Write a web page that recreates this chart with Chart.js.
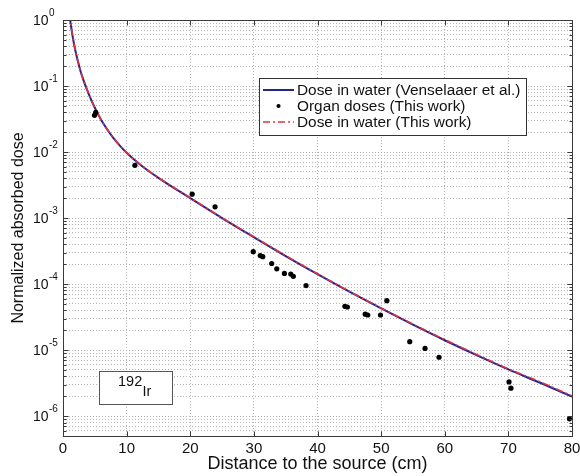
<!DOCTYPE html>
<html>
<head>
<meta charset="utf-8">
<script src="https://cdn.jsdelivr.net/npm/chart.js@4.4.1/dist/chart.umd.min.js"></script>
<style>
  html, body { margin: 0; padding: 0; background: #fff; }
  #wrap { width: 580px; height: 476px; }
</style>
</head>
<body>
<div id="wrap"><canvas id="dose-chart" width="580" height="476"></canvas></div>
<script>
// Distance from the source (cm) and normalized absorbed dose in water
const waterDistance = [1, 1.2, 1.5, 2, 2.5, 3, 4, 5, 6, 7, 8, 9, 10, 12, 15, 20, 25, 30, 35, 40, 45, 50, 55, 60, 65, 70, 75, 80];
const waterDoseVenselaar = [1.23, 0.89, 0.575, 0.324, 0.207, 0.141, 0.0776, 0.0468, 0.0305, 0.0216, 0.0160, 0.0123, 0.00977, 0.00661,
  0.00407, 0.00200, 0.00100, 0.000513, 0.000266, 0.000141, 0.0000767, 0.0000427, 0.0000243, 0.0000141, 0.0000084, 0.0000051,
  0.0000032, 0.00000197];
const waterDoseThisWork = [1.25, 0.9, 0.58, 0.327, 0.209, 0.142, 0.0782, 0.0472, 0.0308, 0.0218, 0.0162, 0.0124, 0.00985, 0.00667,
  0.00411, 0.00203, 0.00101, 0.00052, 0.00027, 0.000143, 0.0000778, 0.0000435, 0.0000248, 0.0000144, 0.0000086, 0.0000052,
  0.0000033, 0.00000203];

// Organ doses
const organDistance = [4.95, 5.15, 11.3, 20.3, 23.9, 29.9, 31.0, 31.4, 32.8, 33.6, 34.8, 35.8, 36.2, 38.2,
  44.3, 44.7, 47.5, 47.9, 49.9, 50.9, 54.5, 56.9, 59.1, 70.1, 70.4, 79.6];
const organDose = [0.036, 0.040, 0.0063, 0.0023, 0.00148, 0.00031, 0.00027, 0.00026, 0.000205, 0.00017, 0.000145, 0.000142, 0.000131, 0.000095,
  0.000046, 0.000045, 0.000035, 0.000034, 0.000034, 0.000056, 0.0000134, 0.0000106, 0.0000078, 0.0000033, 0.00000265, 0.00000091];

// Axis ticks
const xTicks = [0, 10, 20, 30, 40, 50, 60, 70, 80];
const yDecades = [-6, -5, -4, -3, -2, -1, 0];
const yMantissas = [1, 2, 3, 4, 5, 6, 7, 8, 9];
const yBelowFirstDecade = [6e-7, 7e-7, 8e-7, 9e-7];

const FONT = '"Liberation Sans", Arial, Helvetica, sans-serif';
Chart.defaults.font.family = FONT;
Chart.defaults.color = '#111';

const yTickValues = yBelowFirstDecade.slice();
yDecades.forEach(d => {
    yMantissas.forEach(m => {
        if (d === 0 && m > 1) return;
        yTickValues.push(m * Math.pow(10, d));
    });
});

const toXY = (xs, ys) => xs.map((x, i) => ({ x: x, y: ys[i] }));
const isDecade = v => Math.abs(Math.log10(v) - Math.round(Math.log10(v))) < 1e-6;

// box around the axes, inward tick marks and 10^n labels
const framePlugin = {
    id: 'frame',
    afterDraw(chart) {
        const { ctx, chartArea: a, scales: { x, y } } = chart;
        const L = Math.round(a.left) + 0.5, R = Math.round(a.right) + 0.5;
        const T = Math.round(a.top) + 0.5, B = Math.round(a.bottom) + 0.5;
        ctx.save();
        ctx.strokeStyle = '#3a3a3a';
        ctx.lineWidth = 1;
        ctx.beginPath();
        x.ticks.forEach(t => {
            const px = Math.round(x.getPixelForValue(t.value)) + 0.5;
            ctx.moveTo(px, B); ctx.lineTo(px, B - 5);
            ctx.moveTo(px, T); ctx.lineTo(px, T + 5);
        });
        y.ticks.forEach(t => {
            const py = Math.round(y.getPixelForValue(t.value)) + 0.5;
            const len = isDecade(t.value) ? 5 : 3;
            ctx.moveTo(L, py); ctx.lineTo(L + len, py);
            ctx.moveTo(R, py); ctx.lineTo(R - len, py);
        });
        ctx.stroke();
        ctx.strokeRect(L, T, R - L, B - T);

        ctx.fillStyle = '#111';
        ctx.textBaseline = 'middle';
        y.ticks.forEach(t => {
            if (!isDecade(t.value)) return;
            const py = y.getPixelForValue(t.value) + 1;
            ctx.font = '14px ' + FONT;
            ctx.textAlign = 'right';
            ctx.fillText('10', 48.5, py);
            ctx.font = '10px ' + FONT;
            ctx.textAlign = 'left';
            ctx.fillText(String(Math.round(Math.log10(t.value))), 49, py - 8);
        });
        ctx.restore();
    }
};

// source label and legend box drawn inside the plot area
const annotationPlugin = {
    id: 'annotations',
    afterDraw(chart) {
        const ctx = chart.ctx;
        ctx.save();
        ctx.fillStyle = '#fff';
        ctx.strokeStyle = '#555';
        ctx.lineWidth = 1;
        ctx.fillRect(99.5, 371.5, 73, 33);
        ctx.strokeRect(99.5, 371.5, 73, 33);
        ctx.fillStyle = '#111';
        ctx.textBaseline = 'middle';
        ctx.textAlign = 'left';
        ctx.font = '14.5px ' + FONT;
        ctx.fillText('192', 118, 382);
        ctx.fillText('Ir', 142.5, 392);

        const box = { x: 259.5, y: 78.5, w: 267, h: 57 };
        ctx.fillStyle = '#fff';
        ctx.fillRect(box.x, box.y, box.w, box.h);
        ctx.strokeStyle = '#333';
        ctx.strokeRect(box.x, box.y, box.w, box.h);
        ctx.font = '15.4px ' + FONT;
        chart.data.datasets.forEach((ds, i) => {
            const cy = box.y + 11.5 + i * 16;
            if (ds.showLine) {
                ctx.strokeStyle = ds.borderColor;
                ctx.lineWidth = ds.borderWidth;
                ctx.setLineDash(ds.borderDash || []);
                ctx.beginPath();
                ctx.moveTo(263, cy);
                ctx.lineTo(294, cy);
                ctx.stroke();
                ctx.setLineDash([]);
            } else {
                ctx.fillStyle = ds.pointBackgroundColor;
                ctx.beginPath();
                ctx.arc(278.5, cy, ds.pointRadius * 0.8, 0, Math.PI * 2);
                ctx.fill();
            }
            ctx.fillStyle = '#111';
            ctx.fillText(ds.label, 297, cy + 1);
        });
        ctx.restore();
    }
};

const ctx = document.getElementById('dose-chart').getContext('2d');
const doseChart = new Chart(ctx, {
    type: 'scatter',
    data: {
        datasets: [{
            label: 'Dose in water (Venselaaer et al.)',
            data: toXY(waterDistance, waterDoseVenselaar),
            showLine: true,
            borderColor: '#25258f',
            borderWidth: 2,
            pointRadius: 0,
            cubicInterpolationMode: 'monotone',
            order: 3
        }, {
            label: 'Organ doses (This work)',
            data: toXY(organDistance, organDose),
            showLine: false,
            pointRadius: 2.6,
            pointBackgroundColor: '#000',
            pointBorderWidth: 0,
            order: 1
        }, {
            label: 'Dose in water (This work)',
            data: toXY(waterDistance, waterDoseThisWork),
            showLine: true,
            borderColor: '#e0343f',
            borderWidth: 1.6,
            borderDash: [7, 3, 2, 3],
            pointRadius: 0,
            cubicInterpolationMode: 'monotone',
            order: 2
        }]
    },
    options: {
        responsive: false,
        animation: false,
        layout: { padding: { left: 0, right: 8, top: 20, bottom: 0 } },
        plugins: {
            legend: { display: false },
            tooltip: { enabled: false }
        },
        scales: {
            x: {
                type: 'linear',
                min: 0,
                max: 80,
                afterBuildTicks: s => { s.ticks = xTicks.map(v => ({ value: v })); },
                afterFit: s => { s.height = 40; s.paddingLeft = 0; s.paddingRight = 0; },
                ticks: { padding: 4, color: '#111', font: { size: 15 } },
                grid: { color: '#b4b4b4', lineWidth: 1, drawTicks: false },
                border: { display: false, dash: [1, 2] },
                title: {
                    display: true,
                    text: 'Distance to the source (cm)',
                    color: '#111',
                    font: { size: 18 },
                    padding: { top: 0, bottom: 1 }
                }
            },
            y: {
                type: 'logarithmic',
                min: 5e-7,
                max: 1,
                afterBuildTicks: s => { s.ticks = yTickValues.map(v => ({ value: v })); },
                afterFit: s => { s.width = 63; s.paddingTop = 0; s.paddingBottom = 0; },
                ticks: { display: false },
                grid: { color: '#b4b4b4', lineWidth: 1, drawTicks: false },
                border: { display: false, dash: [1, 2] },
                title: {
                    display: true,
                    text: 'Normalized absorbed dose',
                    color: '#111',
                    font: { size: 16 },
                    padding: { top: 9, bottom: 0 }
                }
            }
        }
    },
    plugins: [framePlugin, annotationPlugin]
});
</script>
</body>
</html>
